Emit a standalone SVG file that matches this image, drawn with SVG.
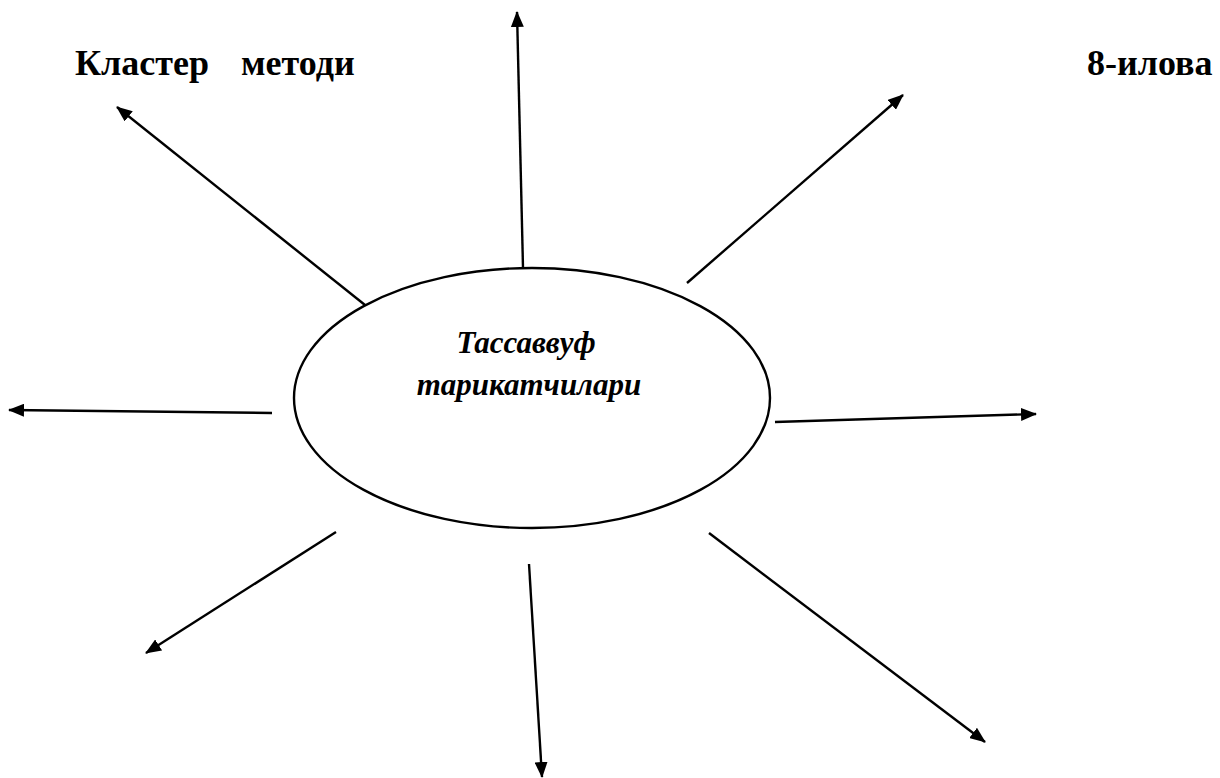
<svg xmlns="http://www.w3.org/2000/svg" width="1220" height="778" viewBox="0 0 1220 778">
<defs>
<style>
.t{font-family:"Liberation Serif","Times New Roman",serif;font-weight:bold;fill:#000}
.title{font-size:36px}
.lbl{font-size:31px;font-style:italic}
.c{stroke:#000;stroke-width:2.4;fill:none;marker-end:url(#ah)}
</style>
<marker id="ah" viewBox="0 0 16 13" refX="15" refY="6.5" markerWidth="16" markerHeight="13" markerUnits="userSpaceOnUse" orient="auto">
<path d="M0,0 L16,6.5 L0,13 Z" fill="#000"/>
</marker>
</defs>
<rect width="1220" height="778" fill="#fff"/>
<g id="title">
<text class="t title" x="75" y="75">Кластер</text>
<text class="t title" x="241" y="75">методи</text>
</g>
<text id="page" class="t title" x="1087" y="75">8-илова</text>
<g id="center">
<ellipse cx="532" cy="398" rx="238" ry="130" fill="none" stroke="#000" stroke-width="2.4"/>
<text class="t lbl" x="526" y="353" text-anchor="middle">Тассаввуф</text>
<text class="t lbl" x="529" y="395" text-anchor="middle">тарикатчилари</text>
</g>
<g id="connectors">
<line class="c" x1="523" y1="268" x2="517" y2="12"/>
<line class="c" x1="365" y1="305" x2="117" y2="107"/>
<line class="c" x1="687" y1="283" x2="903" y2="95"/>
<line class="c" x1="272" y1="413" x2="9" y2="410"/>
<line class="c" x1="775" y1="422" x2="1036" y2="414"/>
<line class="c" x1="336" y1="532" x2="146" y2="653"/>
<line class="c" x1="529" y1="564" x2="542" y2="777"/>
<line class="c" x1="709" y1="533" x2="985" y2="742"/>
</g>
</svg>
